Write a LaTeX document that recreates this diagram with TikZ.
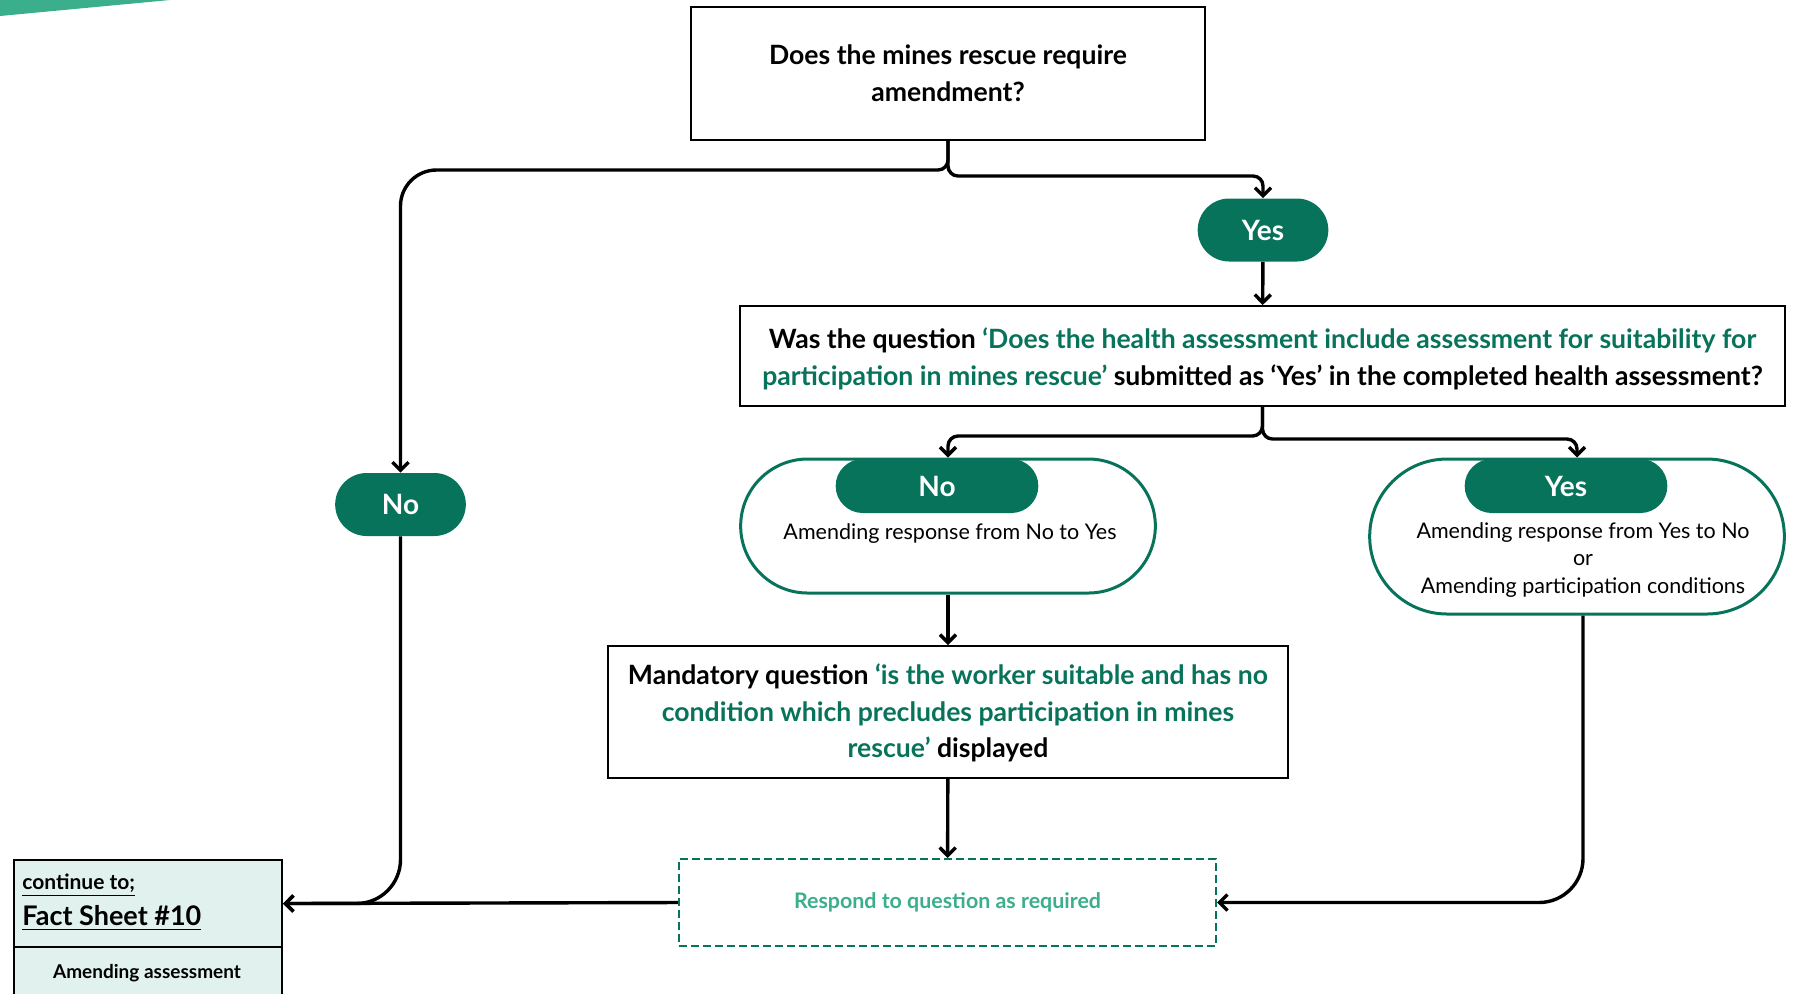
\documentclass[tikz,border=0pt]{standalone}
\usepackage{fontspec}
\setmainfont{Lato}
\usetikzlibrary{arrows.meta,shapes.misc}
\definecolor{mrgreen}{HTML}{08735B}
\definecolor{mrlight}{HTML}{3BAF8B}
\definecolor{mrpale}{HTML}{E1F1ED}

\begin{document}
\begin{tikzpicture}[x=0.5pt,y=-0.5pt,
  qbox/.style={draw, line width=1pt, align=center, font=\bfseries\fontsize{13.3}{18.3}\selectfont},
  qtext/.style={align=center, font=\bfseries\fontsize{13.3}{18.3}\selectfont},
  pill/.style={rounded rectangle, fill=mrgreen, text=white, font=\bfseries\fontsize{14}{16}\selectfont, minimum width=72pt, minimum height=31.5pt},
  smallpill/.style={pill, minimum width=108pt, minimum height=27pt},
  answer/.style={rounded rectangle, draw=mrgreen, line width=1.5pt, minimum width=214pt},
  note/.style={align=center, font=\fontsize{10.75}{13.7}\selectfont},
  conn/.style={line width=1.7pt, -{Straight Barb[length=4pt,width=8pt]}}]
\useasboundingbox (0,0) rectangle (1793,993);
\fill[mrlight] (0,0) -- (170,0) -- (0,16) -- cycle;

% questions
\node[qbox, minimum width=257pt, minimum height=66.5pt] (q1) at (948,73.5) {Does the mines rescue require\\amendment?};
\node[pill] (yesT) at (1263,230) {Yes};
\node[draw, line width=1pt, minimum width=522.5pt, minimum height=50pt] (q2) at (1262.5,356) {};
\node[qtext] (q2txt) at (1262.5,359) {Was the question \textcolor{mrgreen}{‘Does the health assessment include assessment for suitability for}\\\textcolor{mrgreen}{participation in mines rescue’} submitted as ‘Yes’ in the completed health assessment?};
\node[pill] (noL) at (400.5,504.5) {No};

% answers
\node[answer, minimum height=67pt] (noBox) at (948,526) {};
\node[smallpill] (noIn) at (937,486) {No};
\node[note] (noTxt) at (950,534) {Amending response from No to Yes};
\node[answer, minimum height=77.5pt] (yesBox) at (1577,536.5) {};
\node[smallpill] (yesIn) at (1566,486) {Yes};
\node[note] (yesTxt) at (1583,560) {Amending response from Yes to No\\or\\Amending participation conditions};

\node[qbox, minimum width=340pt, minimum height=66pt] (q3) at (948,712) {};
\node[qtext] (q3txt) at (948,713) {Mandatory question \textcolor{mrgreen}{‘is the worker suitable and has no}\\\textcolor{mrgreen}{condition which precludes participation in mines}\\\textcolor{mrgreen}{rescue’} displayed};
\node[draw=mrgreen, dash pattern=on 4pt off 2pt, line width=1.1pt, minimum width=268.5pt, minimum height=43.5pt, text=mrlight, font=\bfseries\fontsize{10.7}{12}\selectfont] (resp) at (947.5,902.5) {Respond to question as required};

% fact sheet
\node[draw, fill=mrpale, line width=1pt, anchor=north west, minimum width=134pt, minimum height=43.5pt] (fact) at (13,859) {};
\node[draw, fill=mrpale, line width=1pt, anchor=north west, minimum width=134pt, minimum height=35pt] (factB) at (13,946) {};
\node[anchor=west, inner sep=0pt, font=\bfseries\fontsize{10.5}{12}\selectfont] (cont) at (22,885) {\underline{continue to;}};
\node[anchor=west, inner sep=0pt, font=\bfseries\fontsize{13.5}{15}\selectfont] (sheet) at (22,918) {\underline{Fact Sheet \#10}};
\node[font=\bfseries\fontsize{9.5}{11}\selectfont] (amend) at (147,973) {Amending assessment};

% connectors
\draw[conn] (q1.south) [rounded corners=5pt] -- ++(0,29) [rounded corners=18pt] -| (noL.north);
\draw[conn, rounded corners=5pt] (q1.south) -- ++(0,35) -| (yesT.north);
\draw[conn] (yesT) -- (q2);
\draw[conn, rounded corners=5pt] (q2.south) -- ++(0,29) -| (noBox.north);
\draw[conn, rounded corners=5pt] (q2.south) -- ++(0,32) -| (yesBox.north);
\draw[conn] (noBox) -- (q3);
\draw[conn] (q3) -- (resp);
\draw[conn, rounded corners=22pt] (noL.south) |- (fact.east);
\draw[conn] (resp.west) -- (fact.east);
\draw[conn, rounded corners=22pt] ([xshift=3pt]yesBox.south) |- (resp.east);
\end{tikzpicture}
\end{document}
